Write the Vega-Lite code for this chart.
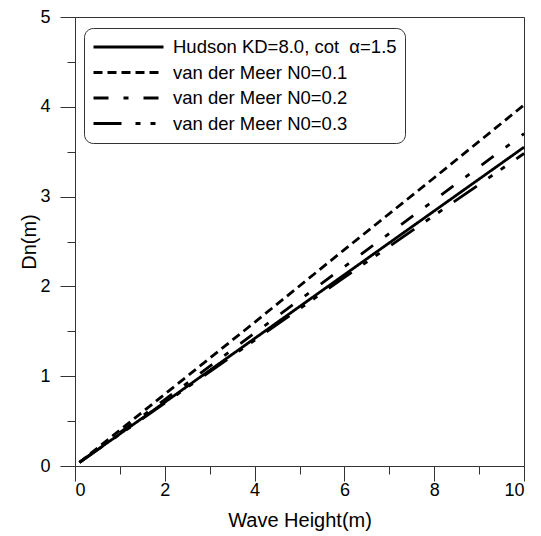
{
  "$schema": "https://vega.github.io/schema/vega-lite/v6.json",
  "width": 449,
  "height": 449,
  "autosize": {"type": "none"},
  "padding": {"left": 75, "top": 17, "right": 17, "bottom": 70},
  "background": "white",
  "config": {
    "view": {"stroke": "#333", "strokeWidth": 1},
    "font": "Liberation Sans",
    "axis": {
      "grid": false,
      "domainColor": "#333",
      "tickColor": "#333",
      "labelColor": "black",
      "titleColor": "black",
      "labelFont": "Liberation Sans",
      "titleFont": "Liberation Sans",
      "labelFontSize": 18,
      "titleFontSize": 20,
      "titleFontWeight": "normal"
    }
  },
  "data": {
    "values": [
      {"series": "Hudson KD=8.0, cot\u00a0 α=1.5", "H": 0.1, "Dn": 0.04},
      {"series": "Hudson KD=8.0, cot\u00a0 α=1.5", "H": 2, "Dn": 0.71},
      {"series": "Hudson KD=8.0, cot\u00a0 α=1.5", "H": 4, "Dn": 1.42},
      {"series": "Hudson KD=8.0, cot\u00a0 α=1.5", "H": 6, "Dn": 2.13},
      {"series": "Hudson KD=8.0, cot\u00a0 α=1.5", "H": 8, "Dn": 2.84},
      {"series": "Hudson KD=8.0, cot\u00a0 α=1.5", "H": 10, "Dn": 3.55},
      {"series": "van der Meer N0=0.1", "H": 0.1, "Dn": 0.04},
      {"series": "van der Meer N0=0.1", "H": 2, "Dn": 0.8},
      {"series": "van der Meer N0=0.1", "H": 4, "Dn": 1.6},
      {"series": "van der Meer N0=0.1", "H": 6, "Dn": 2.41},
      {"series": "van der Meer N0=0.1", "H": 8, "Dn": 3.21},
      {"series": "van der Meer N0=0.1", "H": 10, "Dn": 4.02},
      {"series": "van der Meer N0=0.2", "H": 0.1, "Dn": 0.04},
      {"series": "van der Meer N0=0.2", "H": 2, "Dn": 0.74},
      {"series": "van der Meer N0=0.2", "H": 4, "Dn": 1.48},
      {"series": "van der Meer N0=0.2", "H": 6, "Dn": 2.22},
      {"series": "van der Meer N0=0.2", "H": 8, "Dn": 2.96},
      {"series": "van der Meer N0=0.2", "H": 10, "Dn": 3.7},
      {"series": "van der Meer N0=0.3", "H": 0.1, "Dn": 0.04},
      {"series": "van der Meer N0=0.3", "H": 2, "Dn": 0.7},
      {"series": "van der Meer N0=0.3", "H": 4, "Dn": 1.4},
      {"series": "van der Meer N0=0.3", "H": 6, "Dn": 2.1},
      {"series": "van der Meer N0=0.3", "H": 8, "Dn": 2.79},
      {"series": "van der Meer N0=0.3", "H": 10, "Dn": 3.48}
    ]
  },
  "mark": {"type": "line", "color": "black", "strokeWidth": 2.8},
  "encoding": {
    "x": {
      "field": "H",
      "type": "quantitative",
      "scale": {"domain": [0, 10], "nice": false},
      "axis": {
        "title": "Wave Height(m)",
        "values": [0, 1, 2, 3, 4, 5, 6, 7, 8, 9, 10],
        "format": "d",
        "labelExpr": "datum.value % 2 === 0 ? datum.label : ''",
        "tickSize": {"condition": {"test": "datum.value % 2 === 0", "value": 15}, "value": 8},
        "labelPadding": 0,
        "titlePadding": 11
      }
    },
    "y": {
      "field": "Dn",
      "type": "quantitative",
      "scale": {"domain": [0, 5], "nice": false},
      "axis": {
        "title": "Dn(m)",
        "values": [0, 0.5, 1, 1.5, 2, 2.5, 3, 3.5, 4, 4.5, 5],
        "format": ".0f",
        "labelExpr": "datum.value % 1 === 0 ? datum.label : ''",
        "tickSize": {"condition": {"test": "datum.value % 1 === 0", "value": 15}, "value": 8},
        "labelPadding": 10,
        "titlePadding": 0
      }
    },
    "strokeDash": {
      "field": "series",
      "type": "nominal",
      "scale": {
        "domain": ["Hudson KD=8.0, cot\u00a0 α=1.5", "van der Meer N0=0.1", "van der Meer N0=0.2", "van der Meer N0=0.3"],
        "range": [[1, 0], [9, 5], [15, 15, 5, 15], [28, 14, 5, 10, 5, 14]]
      },
      "legend": {
        "title": null,
        "orient": "none",
        "legendX": 9,
        "legendY": 11,
        "symbolType": "stroke",
        "symbolSize": 4900,
        "symbolStrokeWidth": 3,
        "symbolStrokeColor": "black",
        "clipHeight": 22,
        "rowPadding": 3.5,
        "labelOffset": 8,
        "labelFontSize": 18.5,
        "labelFont": "Liberation Sans",
        "labelColor": "black",
        "labelLimit": 400,
        "padding": 8,
        "strokeColor": "#333",
        "cornerRadius": 9,
        "fillColor": "white"
      }
    }
  }
}
